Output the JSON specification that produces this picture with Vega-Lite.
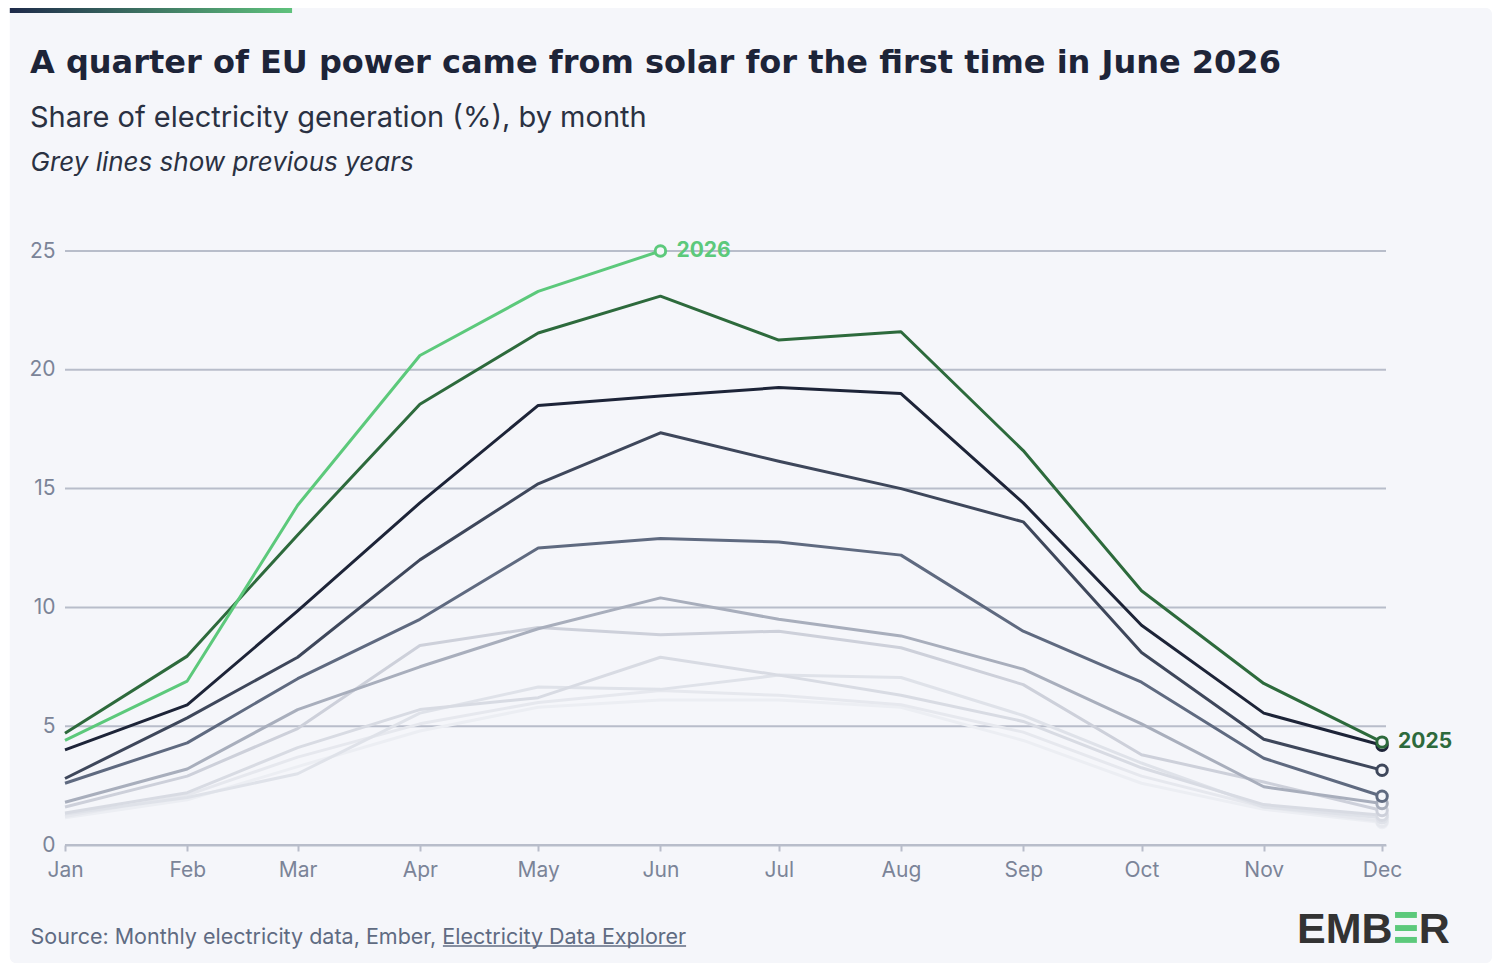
{
  "$schema": "https://vega.github.io/schema/vega-lite/v6.json",
  "width": 1321,
  "height": 594,
  "autosize": {"type": "none"},
  "padding": {"left": 65, "top": 251, "right": 114, "bottom": 120},
  "background": "#ffffff",
  "config": {"view": {"stroke": null}, "font": "Inter"},
  "title": {
    "text": "A quarter of EU power came from solar for the first time in June 2026",
    "subtitle": "Share of electricity generation (%), by month",
    "anchor": "start",
    "frame": "group",
    "dx": -35,
    "dy": 141,
    "offset": 15,
    "font": "DejaVu Sans",
    "fontSize": 32,
    "fontWeight": 700,
    "color": "#1d2438",
    "subtitleFont": "Inter",
    "subtitleFontSize": 29,
    "subtitleColor": "#2a3142",
    "subtitlePadding": 24
  },
  "layer": [
    {
      "data": {"values": [{"part": "card"}]},
      "mark": {"type": "rect", "cornerRadius": 6},
      "encoding": {
        "x": {"datum": {"year": 2022, "month": 12, "date": 18, "utc": true}, "type": "temporal"},
        "x2": {"datum": {"year": 2023, "month": 12, "date": 28, "hours": 21, "utc": true}},
        "y": {"datum": 35.23, "type": "quantitative"},
        "y2": {"datum": -4.97},
        "color": {"value": "#f5f6fa"}
      }
    },
    {
      "data": {"values": [{"part": "bar"}]},
      "mark": {
        "type": "rect",
        "fill": {
          "gradient": "linear",
          "stops": [{"offset": 0, "color": "#1e2a4a"}, {"offset": 1, "color": "#5fc27c"}]
        }
      },
      "encoding": {
        "x": {"datum": {"year": 2022, "month": 12, "date": 18, "utc": true}, "type": "temporal"},
        "x2": {"datum": {"year": 2023, "month": 2, "date": 27, "hours": 14, "utc": true}},
        "y": {"datum": 35.23, "type": "quantitative"},
        "y2": {"datum": 35.02}
      }
    },
    {
      "data": {"values": [{"tick": 0}, {"tick": 5}, {"tick": 10}, {"tick": 15}, {"tick": 20}, {"tick": 25}]},
      "mark": {"type": "rule", "strokeWidth": 2},
      "encoding": {
        "y": {"field": "tick", "type": "quantitative"},
        "color": {"value": "#b8bdca"}
      }
    },
    {
      "data": {
        "values": [
          {"year": 2016, "month": "2023-01-01", "share": 1.15},
          {"year": 2016, "month": "2023-02-01", "share": 1.9},
          {"year": 2016, "month": "2023-03-01", "share": 3.3},
          {"year": 2016, "month": "2023-04-01", "share": 4.8},
          {"year": 2016, "month": "2023-05-01", "share": 5.8},
          {"year": 2016, "month": "2023-06-01", "share": 6.1},
          {"year": 2016, "month": "2023-07-01", "share": 6.1},
          {"year": 2016, "month": "2023-08-01", "share": 5.8},
          {"year": 2016, "month": "2023-09-01", "share": 4.4},
          {"year": 2016, "month": "2023-10-01", "share": 2.6},
          {"year": 2016, "month": "2023-11-01", "share": 1.5},
          {"year": 2016, "month": "2023-12-01", "share": 0.95},
          {"year": 2017, "month": "2023-01-01", "share": 1.2},
          {"year": 2017, "month": "2023-02-01", "share": 2.1},
          {"year": 2017, "month": "2023-03-01", "share": 3.7},
          {"year": 2017, "month": "2023-04-01", "share": 5.1},
          {"year": 2017, "month": "2023-05-01", "share": 6.0},
          {"year": 2017, "month": "2023-06-01", "share": 6.5},
          {"year": 2017, "month": "2023-07-01", "share": 6.3},
          {"year": 2017, "month": "2023-08-01", "share": 5.9},
          {"year": 2017, "month": "2023-09-01", "share": 4.75},
          {"year": 2017, "month": "2023-10-01", "share": 2.9},
          {"year": 2017, "month": "2023-11-01", "share": 1.6},
          {"year": 2017, "month": "2023-12-01", "share": 1.0},
          {"year": 2018, "month": "2023-01-01", "share": 1.3},
          {"year": 2018, "month": "2023-02-01", "share": 2.0},
          {"year": 2018, "month": "2023-03-01", "share": 3.0},
          {"year": 2018, "month": "2023-04-01", "share": 5.55},
          {"year": 2018, "month": "2023-05-01", "share": 6.65},
          {"year": 2018, "month": "2023-06-01", "share": 6.55},
          {"year": 2018, "month": "2023-07-01", "share": 7.15},
          {"year": 2018, "month": "2023-08-01", "share": 7.05},
          {"year": 2018, "month": "2023-09-01", "share": 5.45},
          {"year": 2018, "month": "2023-10-01", "share": 3.45},
          {"year": 2018, "month": "2023-11-01", "share": 1.6},
          {"year": 2018, "month": "2023-12-01", "share": 1.15},
          {"year": 2019, "month": "2023-01-01", "share": 1.35},
          {"year": 2019, "month": "2023-02-01", "share": 2.2},
          {"year": 2019, "month": "2023-03-01", "share": 4.1},
          {"year": 2019, "month": "2023-04-01", "share": 5.7},
          {"year": 2019, "month": "2023-05-01", "share": 6.2},
          {"year": 2019, "month": "2023-06-01", "share": 7.9},
          {"year": 2019, "month": "2023-07-01", "share": 7.15},
          {"year": 2019, "month": "2023-08-01", "share": 6.3},
          {"year": 2019, "month": "2023-09-01", "share": 5.2},
          {"year": 2019, "month": "2023-10-01", "share": 3.25},
          {"year": 2019, "month": "2023-11-01", "share": 1.7},
          {"year": 2019, "month": "2023-12-01", "share": 1.25},
          {"year": 2020, "month": "2023-01-01", "share": 1.6},
          {"year": 2020, "month": "2023-02-01", "share": 2.9},
          {"year": 2020, "month": "2023-03-01", "share": 4.9},
          {"year": 2020, "month": "2023-04-01", "share": 8.4},
          {"year": 2020, "month": "2023-05-01", "share": 9.15},
          {"year": 2020, "month": "2023-06-01", "share": 8.85},
          {"year": 2020, "month": "2023-07-01", "share": 9.0},
          {"year": 2020, "month": "2023-08-01", "share": 8.3},
          {"year": 2020, "month": "2023-09-01", "share": 6.75},
          {"year": 2020, "month": "2023-10-01", "share": 3.8},
          {"year": 2020, "month": "2023-11-01", "share": 2.65},
          {"year": 2020, "month": "2023-12-01", "share": 1.45},
          {"year": 2021, "month": "2023-01-01", "share": 1.8},
          {"year": 2021, "month": "2023-02-01", "share": 3.2},
          {"year": 2021, "month": "2023-03-01", "share": 5.7},
          {"year": 2021, "month": "2023-04-01", "share": 7.5},
          {"year": 2021, "month": "2023-05-01", "share": 9.1},
          {"year": 2021, "month": "2023-06-01", "share": 10.4},
          {"year": 2021, "month": "2023-07-01", "share": 9.5},
          {"year": 2021, "month": "2023-08-01", "share": 8.8},
          {"year": 2021, "month": "2023-09-01", "share": 7.4},
          {"year": 2021, "month": "2023-10-01", "share": 5.1},
          {"year": 2021, "month": "2023-11-01", "share": 2.45},
          {"year": 2021, "month": "2023-12-01", "share": 1.75},
          {"year": 2022, "month": "2023-01-01", "share": 2.6},
          {"year": 2022, "month": "2023-02-01", "share": 4.3},
          {"year": 2022, "month": "2023-03-01", "share": 7.0},
          {"year": 2022, "month": "2023-04-01", "share": 9.5},
          {"year": 2022, "month": "2023-05-01", "share": 12.5},
          {"year": 2022, "month": "2023-06-01", "share": 12.9},
          {"year": 2022, "month": "2023-07-01", "share": 12.75},
          {"year": 2022, "month": "2023-08-01", "share": 12.2},
          {"year": 2022, "month": "2023-09-01", "share": 9.0},
          {"year": 2022, "month": "2023-10-01", "share": 6.85},
          {"year": 2022, "month": "2023-11-01", "share": 3.65},
          {"year": 2022, "month": "2023-12-01", "share": 2.05},
          {"year": 2023, "month": "2023-01-01", "share": 2.8},
          {"year": 2023, "month": "2023-02-01", "share": 5.35},
          {"year": 2023, "month": "2023-03-01", "share": 7.9},
          {"year": 2023, "month": "2023-04-01", "share": 12.0},
          {"year": 2023, "month": "2023-05-01", "share": 15.2},
          {"year": 2023, "month": "2023-06-01", "share": 17.35},
          {"year": 2023, "month": "2023-07-01", "share": 16.15},
          {"year": 2023, "month": "2023-08-01", "share": 15.0},
          {"year": 2023, "month": "2023-09-01", "share": 13.6},
          {"year": 2023, "month": "2023-10-01", "share": 8.1},
          {"year": 2023, "month": "2023-11-01", "share": 4.45},
          {"year": 2023, "month": "2023-12-01", "share": 3.15},
          {"year": 2024, "month": "2023-01-01", "share": 4.0},
          {"year": 2024, "month": "2023-02-01", "share": 5.9},
          {"year": 2024, "month": "2023-03-01", "share": 9.85},
          {"year": 2024, "month": "2023-04-01", "share": 14.4},
          {"year": 2024, "month": "2023-05-01", "share": 18.5},
          {"year": 2024, "month": "2023-06-01", "share": 18.9},
          {"year": 2024, "month": "2023-07-01", "share": 19.25},
          {"year": 2024, "month": "2023-08-01", "share": 19.0},
          {"year": 2024, "month": "2023-09-01", "share": 14.4},
          {"year": 2024, "month": "2023-10-01", "share": 9.25},
          {"year": 2024, "month": "2023-11-01", "share": 5.55},
          {"year": 2024, "month": "2023-12-01", "share": 4.2},
          {"year": 2025, "month": "2023-01-01", "share": 4.7},
          {"year": 2025, "month": "2023-02-01", "share": 7.95},
          {"year": 2025, "month": "2023-03-01", "share": 13.05},
          {"year": 2025, "month": "2023-04-01", "share": 18.55},
          {"year": 2025, "month": "2023-05-01", "share": 21.55},
          {"year": 2025, "month": "2023-06-01", "share": 23.1},
          {"year": 2025, "month": "2023-07-01", "share": 21.25},
          {"year": 2025, "month": "2023-08-01", "share": 21.6},
          {"year": 2025, "month": "2023-09-01", "share": 16.6},
          {"year": 2025, "month": "2023-10-01", "share": 10.7},
          {"year": 2025, "month": "2023-11-01", "share": 6.8},
          {"year": 2025, "month": "2023-12-01", "share": 4.33},
          {"year": 2026, "month": "2023-01-01", "share": 4.4},
          {"year": 2026, "month": "2023-02-01", "share": 6.9},
          {"year": 2026, "month": "2023-03-01", "share": 14.3},
          {"year": 2026, "month": "2023-04-01", "share": 20.6},
          {"year": 2026, "month": "2023-05-01", "share": 23.3},
          {"year": 2026, "month": "2023-06-01", "share": 25.0}
        ]
      },
      "encoding": {
        "x": {
          "field": "month",
          "type": "temporal",
          "scale": {
            "type": "utc",
            "nice": false,
            "domain": [
              {"year": 2023, "month": 1, "date": 1, "utc": true},
              {"year": 2023, "month": 12, "date": 2, "utc": true}
            ]
          },
          "axis": {
            "zindex": 1,
            "title": "Source: Monthly electricity data, Ember, Electricity Data Explorer",
            "titleX": -35,
            "titleY": 98,
            "titleAnchor": "start",
            "titleAlign": "left",
            "titleBaseline": "alphabetic",
            "titleFont": "Inter",
            "titleFontSize": 21.5,
            "titleFontWeight": 400,
            "titleColor": "#5f6b82",
            "format": "%b",
            "tickCount": {"interval": "month", "step": 1},
            "labelFlush": false,
            "grid": false,
            "domain": true,
            "domainColor": "#b8bdca",
            "domainWidth": 2,
            "ticks": true,
            "tickColor": "#b8bdca",
            "tickWidth": 2,
            "tickSize": 6,
            "labelFont": "Inter",
            "labelFontSize": 21,
            "labelColor": "#7b8498",
            "labelPadding": 8
          }
        },
        "y": {
          "field": "share",
          "type": "quantitative",
          "scale": {"domain": [0, 25], "nice": false},
          "axis": {
            "zindex": 1,
            "title": "Grey lines show previous years",
            "titleAngle": 0,
            "titleX": -35,
            "titleY": -81,
            "titleAnchor": "start",
            "titleAlign": "left",
            "titleBaseline": "alphabetic",
            "titleFont": "Inter",
            "titleFontSize": 26,
            "titleFontStyle": "italic",
            "titleFontWeight": 400,
            "titleColor": "#2a3142",
            "values": [0, 5, 10, 15, 20, 25],
            "grid": false,
            "domain": false,
            "ticks": false,
            "labelFont": "Inter",
            "labelFontSize": 21,
            "labelColor": "#7b8498",
            "labelPadding": 10
          }
        },
        "color": {
          "field": "year",
          "type": "nominal",
          "scale": {
            "domain": [2016, 2017, 2018, 2019, 2020, 2021, 2022, 2023, 2024, 2025, 2026],
            "range": ["#eceef3", "#e6e8ee", "#dfe2e9", "#d8dbe3", "#cdd0da", "#a8aebc", "#5f6a80", "#3e475b", "#1d2438", "#2d6a3c", "#5cc97b"]
          },
          "legend": null
        }
      },
      "layer": [
        {"mark": {"type": "line", "strokeWidth": 3, "strokeJoin": "round"}},
        {
          "transform": [
            {"joinaggregate": [{"op": "max", "field": "month", "as": "last"}], "groupby": ["year"]},
            {"filter": "time(datum.month) == time(datum.last)"}
          ],
          "mark": {"type": "point", "shape": "circle", "filled": false, "fill": "#f5f6fa", "size": 110, "strokeWidth": 3, "opacity": 1}
        },
        {
          "transform": [
            {"joinaggregate": [{"op": "max", "field": "month", "as": "last"}], "groupby": ["year"]},
            {"filter": "time(datum.month) == time(datum.last) && datum.year >= 2025"}
          ],
          "mark": {"type": "text", "align": "left", "baseline": "middle", "dx": 16, "font": "Inter", "fontSize": 21, "fontWeight": 700},
          "encoding": {"text": {"field": "year", "type": "nominal"}}
        }
      ]
    },
    {
      "data": {"values": [{"part": "link"}]},
      "mark": {"type": "rule", "strokeWidth": 1.5},
      "encoding": {
        "x": {"datum": {"year": 2023, "month": 4, "date": 6, "hours": 20, "utc": true}, "type": "temporal"},
        "x2": {"datum": {"year": 2023, "month": 6, "date": 7, "hours": 12, "utc": true}},
        "y": {"datum": -4.25, "type": "quantitative"},
        "color": {"value": "#5f6b82"}
      }
    },
    {
      "data": {"values": [{"brand": "EMB"}]},
      "mark": {"type": "text", "align": "left", "baseline": "alphabetic", "font": "Liberation Sans", "fontSize": 43, "fontWeight": 700},
      "encoding": {
        "x": {"datum": {"year": 2023, "month": 11, "date": 9, "hours": 10, "utc": true}, "type": "temporal"},
        "y": {"datum": -4.12, "type": "quantitative"},
        "text": {"field": "brand"},
        "color": {"value": "#333333"}
      }
    },
    {
      "data": {"values": [{"brand": "R"}]},
      "mark": {"type": "text", "align": "right", "baseline": "alphabetic", "font": "Liberation Sans", "fontSize": 43, "fontWeight": 700},
      "encoding": {
        "x": {"datum": {"year": 2023, "month": 12, "date": 18, "hours": 5, "utc": true}, "type": "temporal"},
        "y": {"datum": -4.12, "type": "quantitative"},
        "text": {"field": "brand"},
        "color": {"value": "#333333"}
      }
    },
    {
      "data": {"values": [{"bar": "top"}]},
      "mark": {"type": "rect"},
      "encoding": {
        "x": {"datum": {"year": 2023, "month": 12, "date": 4, "hours": 7, "utc": true}, "type": "temporal"},
        "x2": {"datum": {"year": 2023, "month": 12, "date": 9, "hours": 20, "utc": true}},
        "y": {"datum": -2.82, "type": "quantitative"},
        "y2": {"datum": -3.07},
        "color": {"value": "#5cc97b"}
      }
    },
    {
      "data": {"values": [{"bar": "middle"}]},
      "mark": {"type": "rect"},
      "encoding": {
        "x": {"datum": {"year": 2023, "month": 12, "date": 4, "hours": 7, "utc": true}, "type": "temporal"},
        "x2": {"datum": {"year": 2023, "month": 12, "date": 9, "hours": 20, "utc": true}},
        "y": {"datum": -3.37, "type": "quantitative"},
        "y2": {"datum": -3.62},
        "color": {"value": "#5cc97b"}
      }
    },
    {
      "data": {"values": [{"bar": "bottom"}]},
      "mark": {"type": "rect"},
      "encoding": {
        "x": {"datum": {"year": 2023, "month": 12, "date": 4, "hours": 7, "utc": true}, "type": "temporal"},
        "x2": {"datum": {"year": 2023, "month": 12, "date": 9, "hours": 20, "utc": true}},
        "y": {"datum": -3.87, "type": "quantitative"},
        "y2": {"datum": -4.12},
        "color": {"value": "#5cc97b"}
      }
    }
  ]
}
